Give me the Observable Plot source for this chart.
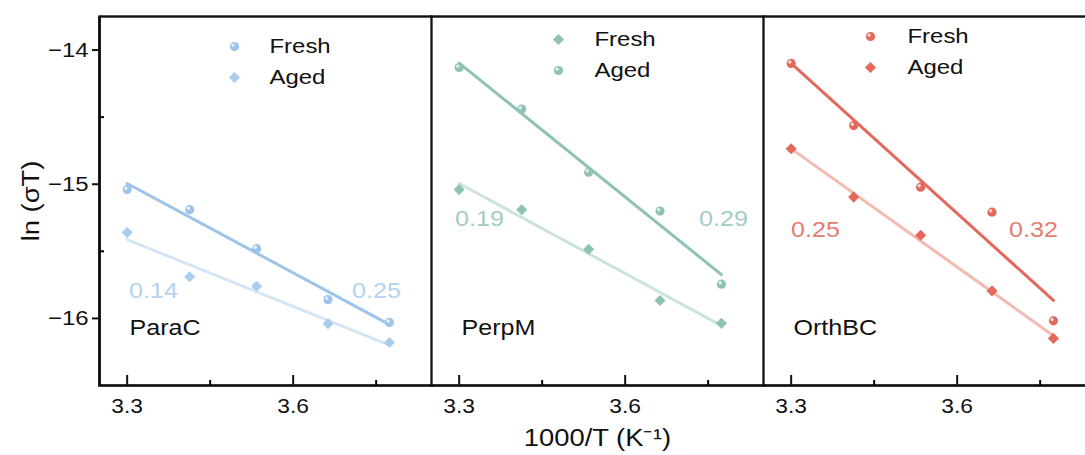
<!DOCTYPE html>
<html>
<head>
<meta charset="utf-8">
<script src="https://cdn.jsdelivr.net/npm/d3@7"></script>
<script src="https://cdn.jsdelivr.net/npm/@observablehq/plot@0.6"></script>
<style>
  html, body { margin: 0; padding: 0; background: #fff; overflow: hidden; }
  #chart { width: 1085px; height: 455px; overflow: hidden; }
  #chart svg { max-width: none !important; }
</style>
</head>
<body>
<div id="chart"></div>
<script>
// Arrhenius plots of ln(σT) against 1000/T for three membrane orientations.
const panels = ["ParaC", "PerpM", "OrthBC"];
const seriesNames = ["Fresh", "Aged"];
const invT = [3.300, 3.413, 3.534, 3.663, 3.774];

const paraCFresh = [-15.04, -15.19, -15.48, -15.86, -16.03];
const paraCAged = [-15.36, -15.69, -15.76, -16.04, -16.18];
const perpMFresh = [-15.04, -15.19, -15.485, -15.867, -16.037];
const perpMAged = [-14.13, -14.44, -14.91, -15.20, -15.745];
const orthBCFresh = [-14.10, -14.563, -15.022, -15.208, -16.018];
const orthBCAged = [-14.736, -15.096, -15.38, -15.795, -16.149];

// activation energies (eV) printed beside each pair of fits
const paraCEa = ["0.14", "0.25"];
const perpMEa = ["0.19", "0.29"];
const orthBCEa = ["0.25", "0.32"];

const yTicks = [-16, -15, -14];
const yMinor = [-15.5, -14.5];
const xTicks = [3.3, 3.6];
const xMinor = [3.45, 3.75];
const xDomain = [3.25, 3.85];
const yDomain = [-16.5, -13.75];

// appearance per panel and series
const look = {
  ParaC: {
    Fresh: {symbol: "circle", fill: "#9dc4ea", line: "#9dc4ea"},
    Aged: {symbol: "diamond2", fill: "#a9cdef", line: "#d3e5f6"},
    note: "#b3d2ef",
    legend: {marker: 135, text: 170, top: 30},
    ea: [[54, 274], [277, 274]]
  },
  PerpM: {
    Fresh: {symbol: "diamond2", fill: "#8fc2b6", line: "#cce3dd"},
    Aged: {symbol: "circle", fill: "#8fc2b6", line: "#8fc2b6"},
    note: "#a3ccc3",
    legend: {marker: 127, text: 163, top: 23},
    ea: [[48, 202], [292, 202]]
  },
  OrthBC: {
    Fresh: {symbol: "circle", fill: "#e2695b", line: "#e2695b"},
    Aged: {symbol: "diamond2", fill: "#e4695b", line: "#f3bab2"},
    note: "#e77b6c",
    legend: {marker: 107, text: 144, top: 20},
    ea: [[52, 213], [270, 213]]
  }
};

const values = {
  ParaC: {Fresh: paraCFresh, Aged: paraCAged},
  PerpM: {Fresh: perpMFresh, Aged: perpMAged},
  OrthBC: {Fresh: orthBCFresh, Aged: orthBCAged}
};
const eaLabels = {ParaC: paraCEa, PerpM: perpMEa, OrthBC: orthBCEa};

const rows = panels.flatMap(panel =>
  seriesNames.flatMap(series =>
    invT.map((x, i) => ({panel, series, key: panel + "-" + series, x, y: values[panel][series][i]}))
  )
);
const circles = rows.filter(d => look[d.panel][d.series].symbol === "circle");
const diamonds = rows.filter(d => look[d.panel][d.series].symbol === "diamond2");

const marks = [
  Plot.linearRegressionY(rows, {
    x: "x", y: "y", fx: "panel", z: "key", ci: 0,
    stroke: d => look[d.panel][d.series].line, strokeWidth: 3
  }),
  Plot.dot(diamonds, {x: "x", y: "y", fx: "panel", symbol: "diamond2", r: 5,
    fill: d => look[d.panel][d.series].fill}),
  Plot.dot(circles, {x: "x", y: "y", fx: "panel", r: 4.6,
    fill: d => look[d.panel][d.series].fill}),
  Plot.dot(circles, {x: "x", y: "y", fx: "panel", r: 1.7, dx: -1.4, dy: -1.4,
    fill: "white", fillOpacity: 0.75}),
  Plot.frame({stroke: "#111", strokeWidth: 1.8}),
  Plot.frame({anchor: "bottom", stroke: "#111", strokeWidth: 2.6}),
  Plot.frame({anchor: "top", stroke: "#111", strokeWidth: 2.2}),
  // heavier outer spine on the left of the first panel
  Plot.ruleX([xDomain[0]], {fx: () => panels[0], stroke: "#111", strokeWidth: 2.8}),
  Plot.axisY({ticks: yTicks, tickFormat: d3.format("d"), tickSize: 7, tickPadding: 4,
    fontSize: 21, label: null, strokeWidth: 2, color: "#111"}),
  Plot.axisY({ticks: yMinor, tickSize: -5, tickFormat: () => "", label: null, strokeWidth: 2}),
  Plot.axisX({ticks: xTicks, tickFormat: d3.format(".1f"), tickSize: -10, tickPadding: 23,
    fontSize: 20, label: null, strokeWidth: 2, color: "#111"}),
  Plot.axisX({ticks: xMinor, tickSize: -5, tickFormat: () => "", label: null, strokeWidth: 2}),
  Plot.text(panels, {fx: d => d, text: d => d, frameAnchor: "bottom-left", dx: 30, dy: -58,
    textAnchor: "start", lineAnchor: "middle", fontSize: 22, fill: "#111"}),
  Plot.text(["ln (σT)"], {fx: () => "ParaC", text: d => d, frameAnchor: "left", dx: -68,
    rotate: -90, textAnchor: "middle", lineAnchor: "middle", fontSize: 24, fill: "#111"}),
  Plot.text(["1000/T (K⁻¹)"], {fx: () => "PerpM", text: d => d, frameAnchor: "bottom", dy: 53,
    textAnchor: "middle", lineAnchor: "middle", fontSize: 24, fill: "#111"})
];

// legends and activation-energy notes inside each panel
for (const panel of panels) {
  const L = look[panel];
  seriesNames.forEach((series, i) => {
    const s = L[series];
    const dy = L.legend.top + i * 31;
    marks.push(Plot.dot([series], {fx: () => panel, frameAnchor: "top-left",
      dx: L.legend.marker, dy, symbol: s.symbol, r: s.symbol === "circle" ? 4.6 : 5, fill: s.fill}));
    if (s.symbol === "circle") {
      marks.push(Plot.dot([series], {fx: () => panel, frameAnchor: "top-left",
        dx: L.legend.marker - 1.4, dy: dy - 1.4, r: 1.7, fill: "white", fillOpacity: 0.75}));
    }
    marks.push(Plot.text([series], {fx: () => panel, text: d => d, frameAnchor: "top-left",
      dx: L.legend.text, dy, textAnchor: "start", lineAnchor: "middle", fontSize: 21, fill: "#111"}));
    marks.push(Plot.text([eaLabels[panel][i]], {fx: () => panel, text: d => d, frameAnchor: "top-left",
      dx: L.ea[i][0], dy: L.ea[i][1], textAnchor: "middle", lineAnchor: "middle",
      fontSize: 22, fill: L.note}));
  });
}

const chart = Plot.plot({
  width: 1096,
  height: 455,
  marginLeft: 98,
  marginRight: 0,
  marginTop: 16,
  marginBottom: 70,
  style: {fontFamily: "'Liberation Sans', Arial, sans-serif", background: "#fff"},
  fx: {domain: panels, padding: 0, axis: null, label: null},
  x: {domain: xDomain},
  y: {domain: yDomain},
  symbol: {type: "identity"},
  color: {type: "identity"},
  marks
});
chart.style.maxWidth = "none";

// the lettering is set slightly wide
d3.select(chart).selectAll("text").each(function() {
  const t = this.getAttribute("transform") || "";
  this.setAttribute("transform", (t + " scale(1.14,1)").trim());
});

document.getElementById("chart").append(chart);
</script>
</body>
</html>
